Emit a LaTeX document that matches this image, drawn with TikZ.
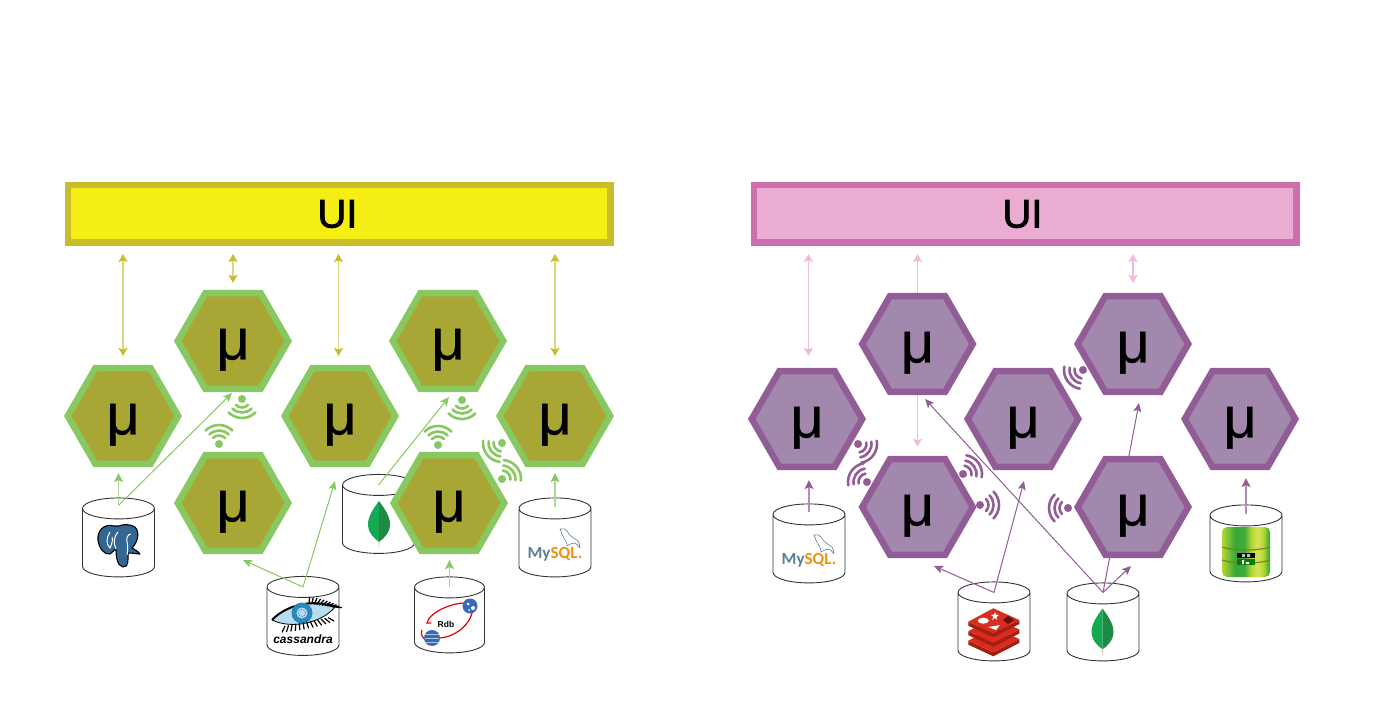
\documentclass[tikz,border=0pt]{standalone}
\usepackage{fontspec}
\usepackage{xcolor}
\usepackage{tikz}
\usetikzlibrary{arrows.meta,shapes.geometric}
\setmainfont{Liberation Sans}
\newfontfamily\mysqlfont{Carlito}
\newfontfamily\uifont[FakeBold=2]{Liberation Sans}
\newfontfamily\mufont[FakeBold=0.5]{Liberation Sans}

\definecolor{barYellow}{HTML}{F5EE14}
\definecolor{barOlive}{HTML}{C7BE2A}
\definecolor{barPink}{HTML}{EAACD0}
\definecolor{barRose}{HTML}{CD6EAD}
\definecolor{hexGreen}{HTML}{88C860}
\definecolor{hexOlive}{HTML}{A8A735}
\definecolor{hexPurple}{HTML}{925C96}
\definecolor{hexMauve}{HTML}{A388AE}
\definecolor{lineOlive}{HTML}{DDD680}
\definecolor{linePink}{HTML}{F0BCDB}
\definecolor{lineGreen}{HTML}{ABDB93}
\definecolor{lineMauve}{HTML}{B48BBA}
\definecolor{pgBlue}{HTML}{336791}
\definecolor{leafLight}{HTML}{13AA52}
\definecolor{leafDark}{HTML}{1E8A45}
\definecolor{sqlSlate}{HTML}{5D7F95}
\definecolor{sqlOrange}{HTML}{F29111}
\definecolor{eyeBlue}{HTML}{2B87C0}
\definecolor{eyePale}{HTML}{B9DDF0}
\definecolor{rdbBlue}{HTML}{3A68B8}
\definecolor{redisRed}{HTML}{D82C20}
\definecolor{redisDark}{HTML}{A41E11}
\definecolor{dbLime}{HTML}{B5D832}
\definecolor{dbPale}{HTML}{D4E45C}
\definecolor{dbGreen}{HTML}{3BAA3A}
\definecolor{dbBrown}{HTML}{7C7A2E}

\pgfdeclarehorizontalshading{dbshade}{100bp}{
  color(0bp)=(dbLime);
  color(25bp)=(dbLime);
  color(38bp)=(dbGreen);
  color(48bp)=(dbGreen);
  color(56bp)=(dbLime);
  color(62bp)=(dbPale);
  color(68bp)=(dbLime);
  color(74bp)=(dbGreen);
  color(100bp)=(dbGreen)}

\newcommand{\hexmu}{\raisebox{-18.5pt}[0pt][0pt]{μ}}

\tikzset{
  wifi/.pic={
    \fill (0,0) circle (4);
    \foreach \r in {8.5,13.5,19}
      \draw[line width=2.6, line cap=round] (-45:\r) arc (-45:45:\r);
  },
  pglogo/.pic={
    \draw[fill=pgBlue, draw=black, line width=1.1, line join=round]
      (-5,20) .. controls (-15,23) and (-22,15) .. (-21,6)
      .. controls (-20,-2) and (-15,-9) .. (-9,-8)
      .. controls (-6,-7) and (-5,-3) .. (-3,-3)
      .. controls (-3,-10) and (-2,-20) .. (4,-21)
      .. controls (10,-21) and (9,-14) .. (9,-7)
      .. controls (14,-7) and (20,-8) .. (21,-8)
      .. controls (18,-4) and (14,-3) .. (13,-2)
      .. controls (19,4) and (21,14) .. (16,19)
      .. controls (11,22) and (4,22) .. (0,20)
      .. controls (-2,20) and (-3,20) .. (-5,20) -- cycle;
    \draw[white, line width=1] (-9,14) .. controls (-13,8) and (-13,2) .. (-9,-2) .. controls (-7,2) and (-6,6) .. (-7,9);
    \draw[white, line width=1] (12,12) .. controls (9,12) and (7,8) .. (8,4) .. controls (9,1) and (9,-4) .. (8,-9);
    \draw[white, line width=1] (-3,-3) .. controls (-6,3) and (-5,10) .. (-1,14);
  },
  leaflogo/.pic={
    \fill[leafLight] (0,23) .. controls (-5,16) and (-11,8) .. (-11,0) .. controls (-11,-9) and (-5,-14) .. (0,-18) -- cycle;
    \fill[leafDark] (0,23) .. controls (5,16) and (11,8) .. (11,0) .. controls (11,-9) and (5,-14) .. (0,-18) -- cycle;
    \fill[brown!50!white] (-.8,-17) -- (0,-24) -- (.8,-17) -- cycle;
  },
  mysqllogo/.pic={
    \node[inner sep=0pt] (mysql_txt) at (0,-9) {\mysqlfont\bfseries\fontsize{17}{17}\selectfont\textcolor{sqlSlate}{My}\textcolor{sqlOrange}{SQL.}};
    \draw[sqlSlate, line width=.6, line join=round]
      (5,16) .. controls (8,17) and (11,16) .. (12,14) .. controls (14,10) and (17,8) .. (23,4)
      .. controls (24,2) and (25,0) .. (25,-3) .. controls (23,0) and (21,2) .. (19,2)
      .. controls (16,2) and (14,0) .. (12,-1) .. controls (12,3) and (10,5) .. (9,7) .. controls (7,10) and (6,13) .. (5,16) -- cycle;
  },
  eyelogo/.pic={
    \fill[eyePale] (-31,-2) .. controls (-18,12) and (8,20) .. (32,11) .. controls (20,-4) and (-10,-12) .. cycle;
    \draw[black, line width=.8] (32,11) .. controls (20,-4) and (-10,-12) .. (-31,-2);
    \draw[black, line width=2] (-31,-2) .. controls (-18,12) and (8,20) .. (32,11);
    \fill[eyeBlue] (-1,5) circle (10.5);
    \fill[eyePale] (-1,5) circle (5.5);
    \draw[eyeBlue, line width=.8, densely dotted] (-1,5) circle (3.5);
    \foreach \i in {0,...,10}
      \draw[black, line width=1.3] (6+\i*2.6,14-\i*.3) -- ++(85-\i*9:7);
    \foreach \i in {0,...,12}
      \draw[black, line width=1.2] (-18+\i*3.6,-8+\i*.7) -- ++(-115+\i*7:7);
    \node[inner sep=0pt] (eye_txt) at (0,-21) {\bfseries\itshape\fontsize{12}{12}\selectfont cassandra};
  },
  rdblogo/.pic={
    \draw[red!90!black, line width=1.2] (14,20) .. controls (0,19) and (-20,10) .. (-22,0) -- (-18,0);
    \draw[red!90!black, line width=1.2] (23,10) .. controls (20,-3) and (5,-14) .. (-9,-15);
    \draw[red!90!black, line width=1.2] (-27,-7) .. controls (-29,-12) and (-26,-16) .. (-22,-17);
    \fill[rdbBlue] (21,17) circle (7.5);
    \fill[white] (19,19) circle (1.5) (24,15) circle (2) (20,13) circle (1);
    \fill[rdbBlue] (-17,-15) circle (8);
    \foreach \i in {-4,0,4}
      \draw[white!60!rdbBlue, line width=.4] (-24,-15+\i) -- (-10,-15+\i);
    \node[inner sep=0pt] (rdb_txt) at (-3,-1) {\bfseries\fontsize{8.5}{8.5}\selectfont Rdb};
  },
  redislogo/.pic={
    \foreach \d in {19,9.5,0} {
      \fill[redisDark] (-25.7,10.3-\d) -- (-.7,-1.3-\d) -- (25.3,12-\d) -- (25.3,8-\d) -- (-.7,-5.3-\d) -- (-25.7,6.3-\d) -- cycle;
      \fill[redisRed] (-25.7,10.3-\d) -- (-.7,23.7-\d) -- (25.3,12-\d) -- (-.7,-1.3-\d) -- cycle;
    }
    \fill[white] (-10.7,11.3) ellipse (5.5 and 3);
    \fill[white] (1,20) -- (2,17.5) -- (5,17) -- (2.5,15) -- (3,12) -- (1,14) -- (-2,12) -- (-.5,15) -- (-3,17) -- (0,17.5) -- cycle;
    \fill[white] (-6,5) -- (6,7) -- (2,2) -- cycle;
    \fill[redisDark!60!black] (9,12) -- (14,16) -- (20,12) -- (14,8) -- cycle;
  },
  greenlogo/.pic={
    \shade[shading=dbshade, rounded corners=5] (-24,-25) rectangle (24,25);
    \draw[dbBrown, line width=1.1] (-24,5) .. controls (-12,1) and (12,1) .. (24,5);
    \draw[dbBrown, line width=1.1] (-24,-8) .. controls (-12,-12) and (12,-12) .. (24,-8);
    \fill[black] (-9,-6) rectangle (9,-1);
    \fill[green!50!black] (-9,-13) rectangle (9,-7);
    \fill[gray!50] (-4,-5) rectangle (-1,-2) (1,-5) rectangle (4,-2);
    \fill[white] (-4,-12) rectangle (-2,-8) (0,-12) rectangle (3,-10);
  }
}

\begin{document}
\begin{tikzpicture}[x=1pt, y=1pt]
        \tikzstyle{bar}=[rectangle, line width=6.5pt, minimum width=542.5pt, minimum height=57.5pt, font=\uifont\fontsize{40}{40}\selectfont]
        \tikzstyle{hexa}=[regular polygon, regular polygon sides=6, minimum size=110.5pt, inner sep=0pt, line width=6.5pt, font=\mufont\fontsize{58}{58}\selectfont]
        \tikzstyle{green_hex}=[hexa, draw=hexGreen, fill=hexOlive]
        \tikzstyle{purple_hex}=[hexa, draw=hexPurple, fill=hexMauve]
        \tikzstyle{dbcan}=[shape=cylinder, shape border rotate=90, shape aspect=3.5, draw=black!80, fill=white, line width=.9pt, minimum width=72pt, minimum height=79pt, inner sep=3pt]
        \tikzstyle{ui_olive}=[draw=lineOlive, line width=1.8pt, {Stealth[color=barOlive, length=8pt, width=9pt, inset=1.5pt]}-{Stealth[color=barOlive, length=8pt, width=9pt, inset=1.5pt]}]
        \tikzstyle{ui_pink}=[draw=linePink, line width=1.8pt, {Stealth[color=linePink, length=8pt, width=9pt, inset=1.5pt]}-{Stealth[color=linePink, length=8pt, width=9pt, inset=1.5pt]}]
        \tikzstyle{up_pink}=[draw=linePink, line width=1.8pt, -{Stealth[color=linePink, length=8pt, width=9pt, inset=1.5pt]}]
        \tikzstyle{thin_green}=[draw=hexGreen, line width=1pt, -{Stealth[color=hexGreen, length=9pt, width=8pt, inset=2pt]}]
        \tikzstyle{thick_green}=[draw=lineGreen, line width=1.6pt, -{Stealth[color=hexGreen, length=9pt, width=9pt, inset=2pt]}]
        \tikzstyle{thin_purple}=[draw=hexPurple, line width=1pt, -{Stealth[color=hexPurple, length=9pt, width=8pt, inset=2pt]}]
        \tikzstyle{thick_purple}=[draw=lineMauve, line width=1.6pt, -{Stealth[color=hexPurple, length=9pt, width=9pt, inset=2pt]}]

        \useasboundingbox (0,0) rectangle (1375,718);

        % UI bars
        \draw node at (339,504) [bar, draw=barOlive, fill=barYellow] (ui_0) {\hspace{-3pt}UI};
        \draw node at (1025,504) [bar, draw=barRose, fill=barPink] (ui_1) {\hspace{-5pt}UI};

        % Databases, left
        \draw node at (118.5,173) [dbcan] (db_0) {};
        \draw node at (303,94.5) [dbcan] (db_1) {};
        \draw node at (378.5,196.5) [dbcan] (db_2) {};
        \draw node at (449.5,95.5) [dbcan, minimum width=70pt, minimum height=76pt] (db_3) {};
        \draw node at (555,173) [dbcan] (db_4) {};

        % Databases, right
        \draw node at (809,167) [dbcan] (db_5) {};
        \draw node at (994,89) [dbcan] (db_6) {};
        \draw node at (1103,88.5) [dbcan, minimum height=78pt] (db_7) {};
        \draw node at (1246,167) [dbcan, minimum height=77pt] (db_8) {};

        % Logos
        \pic at (119,172) {pglogo};
        \pic at (303,100) {eyelogo};
        \pic at (379,194) {leaflogo};
        \pic at (449,95) {rdblogo};
        \pic at (555,173) {mysqllogo};
        \pic at (809,167) {mysqllogo};
        \pic at (994,86) {redislogo};
        \pic at (1102.5,86.5) {leaflogo};
        \pic at (1246,166) {greenlogo};

        % Arrow tips without a node
        \coordinate (tip_0) at (232,325);
        \coordinate (tip_1) at (243,158);
        \coordinate (tip_2) at (335,237);
        \coordinate (tip_3) at (449,321);
        \coordinate (tip_4) at (934,152);
        \coordinate (tip_5) at (1024,237);
        \coordinate (tip_6) at (1131,152);
        \coordinate (tip_7) at (925,319);
        \coordinate (tip_8) at (1139,315);

        % Db -> service, left
        \draw [thin_green] ([yshift=-8pt]db_0.north) to (tip_0);
        \draw [thin_green] ([yshift=-11pt]db_1.north) to (tip_1);
        \draw [thin_green] ([yshift=-11pt]db_1.north) to (tip_2);
        \draw [thin_green] ([yshift=-11pt]db_2.north) to (tip_3);

        % Db -> service, right
        \draw [thin_purple] ([yshift=-11pt]db_6.north) to (tip_4);
        \draw [thin_purple] ([yshift=-11pt]db_6.north) to (tip_5);
        \draw [thin_purple] ([yshift=-10pt]db_7.north) to (tip_6);
        \draw [thin_purple] ([yshift=-10pt]db_7.north) to (tip_7);
        \draw [thin_purple] ([yshift=-10pt]db_7.north) to (tip_8);

        % Services, left
        \draw node at (123,302) [green_hex] (hex_0) {\hexmu};
        \draw node at (233,377) [green_hex] (hex_1) {\hexmu};
        \draw node at (233,215) [green_hex] (hex_2) {\hexmu};
        \draw node at (340,302) [green_hex] (hex_3) {\hexmu};
        \draw node at (448,377) [green_hex] (hex_4) {\hexmu};
        \draw node at (449,215) [green_hex] (hex_5) {\hexmu};
        \draw node at (555,302) [green_hex] (hex_6) {\hexmu};

        % Services, right
        \draw node at (807,299) [purple_hex] (hex_7) {\hexmu};
        \draw node at (917.5,374) [purple_hex] (hex_8) {\hexmu};
        \draw node at (917.5,211) [purple_hex] (hex_9) {\hexmu};
        \draw node at (1023,299) [purple_hex] (hex_10) {\hexmu};
        \draw node at (1133,374) [purple_hex] (hex_11) {\hexmu};
        \draw node at (1133,211) [purple_hex] (hex_12) {\hexmu};
        \draw node at (1240,299) [purple_hex] (hex_13) {\hexmu};

        % UI <-> service
        \draw [ui_olive, shorten <=8pt, shorten >=9pt] (ui_0.south -| hex_0.north) to (hex_0.north);
        \draw [ui_olive, shorten <=8pt, shorten >=7pt] (ui_0.south -| hex_1.north) to (hex_1.north);
        \draw [ui_olive, shorten <=8pt, shorten >=9pt] ([xshift=-1.5pt]ui_0.south -| hex_3.north) to ([xshift=-1.5pt]hex_3.north);
        \draw [ui_olive, shorten <=8pt, shorten >=9pt] (ui_0.south -| hex_6.north) to (hex_6.north);
        \draw [ui_pink, shorten <=8pt, shorten >=12pt] ([xshift=1.5pt]ui_1.south -| hex_7.north) to ([xshift=1.5pt]hex_7.north);
        \draw [up_pink, shorten >=8pt] (hex_8.north) to (hex_8.north |- ui_1.south);
        \draw [ui_pink, shorten <=8pt, shorten >=10pt] (ui_1.south -| hex_11.north) to (hex_11.north);
        \draw [up_pink, shorten >=9pt] (hex_8.south) to (hex_9.north);

        % Straight db -> service
        \draw [thick_green, shorten >=6pt] ([yshift=-8pt]db_0.north) to (db_0.north |- hex_0.south);
        \draw [thick_green, shorten >=6pt] ([yshift=-11pt]db_3.north) to (db_3.north |- hex_5.south);
        \draw [thick_green, shorten >=6pt] ([yshift=-10pt]db_4.north) to (db_4.north |- hex_6.south);
        \draw [thick_purple, shorten >=10pt] ([yshift=-9pt]db_5.north) to (db_5.north |- hex_7.south);
        \draw [thick_purple, shorten >=8pt] ([yshift=-10pt]db_8.north) to (db_8.north |- hex_13.south);

        % Wireless links
        \foreach \x/\y/\a in {242/319/-90, 219/274/90, 462/318/-90, 438/273/90, 502/275/218, 502/239/40}
        \pic [hexGreen, rotate=\a] at (\x,\y) {wifi};
        \foreach \x/\y/\a in {858/274/-35, 867/236/145, 963/244/35, 980/213/0, 1068/210/180, 1083/348/215}
        \pic [hexPurple, rotate=\a] at (\x,\y) {wifi};

\end{tikzpicture}
\end{document}
